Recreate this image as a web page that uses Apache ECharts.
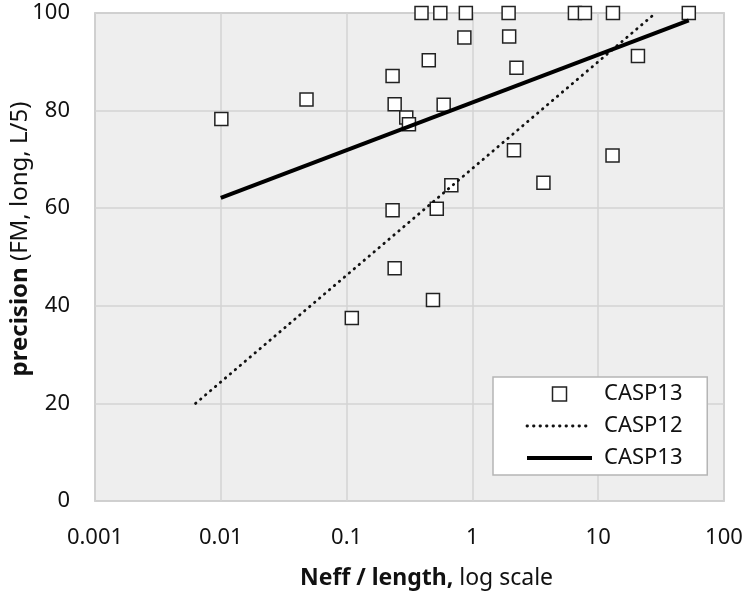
<!DOCTYPE html>
<html>
<head>
<meta charset="utf-8">
<script src="https://cdn.jsdelivr.net/npm/echarts@6/dist/echarts.min.js"></script>
<style>
html,body{margin:0;padding:0;background:#fff;}
#chart{width:747px;height:596px;}
</style>
</head>
<body>
<div id="chart"></div>
<script>
// CASP13 scatter points: Neff/length (log scale) and precision
const neffLength = [0.0101, 0.048, 0.232, 0.241, 0.298, 0.313, 0.45, 0.394, 0.556, 0.887,
  0.863, 0.591, 0.68, 1.94, 1.96, 2.24, 2.14, 3.67, 6.53, 7.84,
  13.1, 13.0, 20.7, 52.5, 0.232, 0.521, 0.241, 0.486, 0.110];
const precision = [78.3, 82.3, 87.1, 81.3, 78.6, 77.2, 90.3, 100, 100, 100,
  95.0, 81.2, 64.7, 100, 95.2, 88.8, 71.9, 65.2, 100, 100,
  100, 70.8, 91.2, 100, 59.6, 59.9, 47.7, 41.2, 37.5];

// Trend lines (endpoints)
const casp12TrendX = [0.0063, 28.6];
const casp12TrendY = [20, 100];
const casp13TrendX = [0.01, 52.5];
const casp13TrendY = [62.1, 98.5];

const yTicks = [0, 20, 40, 60, 80, 100];
const xTickLabels = ['0.001', '0.01', '0.1', '1', '10', '100'];

const seriesNames = ['CASP13', 'CASP12', 'CASP13 '];

const FONT = 'Noto Sans';
const TXT = '#111';

const dottedStyle = {color: '#111', width: 2.8, type: [0.5, 6], cap: 'round'};
const solidStyle = {color: '#000', width: 4};

const scatterData = neffLength.map((x, i) => [x, precision[i]]);
const c12Data = casp12TrendX.map((x, i) => [x, casp12TrendY[i]]);
const c13Data = casp13TrendX.map((x, i) => [x, casp13TrendY[i]]);

const chart = echarts.init(document.getElementById('chart'), null, {renderer: 'canvas'});
chart.setOption({
  animation: false,
  backgroundColor: '#ffffff',
  textStyle: {fontFamily: FONT, color: TXT},
  grid: {
    left: 95, right: 23, top: 13, bottom: 95,
    containLabel: false, outerBoundsMode: 'none',
    show: true, backgroundColor: '#eeeeee', borderColor: '#b5b5b5', borderWidth: 1.5
  },
  xAxis: {
    type: 'log', logBase: 10, min: 0.001, max: 100,
    axisLine: {show: false}, axisTick: {show: false},
    splitLine: {show: true, lineStyle: {color: '#d3d3d3', width: 1.5}},
    axisLabel: {
      fontFamily: FONT, fontSize: 22, color: TXT, margin: 26,
      formatter: function (v) {
        const k = Math.round(Math.log10(v)) + 3;
        return xTickLabels[k] !== undefined ? xTickLabels[k] : String(v);
      }
    },
    name: '{b|Neff / length,} log scale',
    nameLocation: 'middle', nameGap: 66, nameMoveOverlap: false,
    nameTextStyle: {
      fontFamily: FONT, fontSize: 23, color: TXT, padding: [0, 0, 0, 34],
      rich: {b: {fontFamily: FONT, fontSize: 23, fontWeight: 'bold', color: TXT}}
    }
  },
  yAxis: {
    type: 'value', min: 0, max: 100, interval: 20,
    axisLine: {show: false}, axisTick: {show: false},
    splitLine: {show: true, lineStyle: {color: '#d3d3d3', width: 1.5}},
    axisLabel: {fontFamily: FONT, fontSize: 22, color: TXT, margin: 25},
    name: '{b|precision} (FM, long, L/5)',
    nameLocation: 'middle', nameGap: 63, nameMoveOverlap: false,
    nameTextStyle: {
      fontFamily: FONT, fontSize: 24, color: TXT, padding: [0, 0, 0, 36],
      rich: {b: {fontFamily: FONT, fontSize: 24, fontWeight: 'bold', color: TXT}}
    }
  },
  legend: {
    left: 493, top: 377, orient: 'vertical', align: 'left',
    backgroundColor: '#ffffff', borderColor: '#b5b5b5', borderWidth: 1.5, borderRadius: 0,
    padding: [6, 19, 6, 32],
    itemWidth: 65, itemHeight: 14, itemGap: 10,
    textStyle: {fontFamily: FONT, fontSize: 22, color: TXT, lineHeight: 22, padding: [0, 0, 0, 7]},
    data: [
      {name: seriesNames[0], icon: 'path://M0,0H10V10H0Z',
        itemStyle: {color: '#ffffff', borderColor: '#222', borderWidth: 1.5}},
      {name: seriesNames[1], itemStyle: {opacity: 0}, lineStyle: dottedStyle},
      {name: seriesNames[2], itemStyle: {opacity: 0}, lineStyle: solidStyle}
    ]
  },
  series: [
    {
      name: seriesNames[0], type: 'scatter', data: scatterData,
      symbol: 'rect', symbolSize: 13, z: 2,
      itemStyle: {color: '#ffffff', borderColor: '#222', borderWidth: 1.5, opacity: 1}
    },
    {
      name: seriesNames[1], type: 'line', data: c12Data, symbol: 'none', z: 3,
      lineStyle: dottedStyle,
      itemStyle: {color: '#111'}
    },
    {
      name: seriesNames[2], type: 'line', data: c13Data, symbol: 'none', z: 4,
      lineStyle: solidStyle,
      itemStyle: {color: '#000'}
    }
  ]
});
</script>
</body>
</html>
